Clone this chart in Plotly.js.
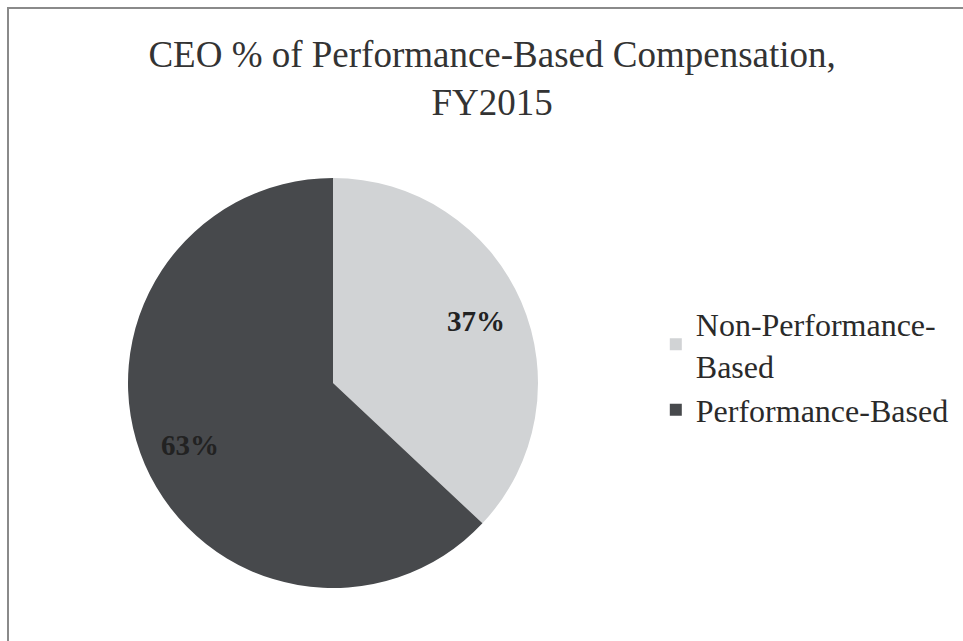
<!DOCTYPE html>
<html>
<head>
<meta charset="utf-8">
<script src="https://cdn.plot.ly/plotly-3.0.1.min.js"></script>
<style>
html,body{margin:0;padding:0;background:#fff;}
#chart{width:963px;height:641px;}
</style>
</head>
<body>
<div id="chart"></div>
<script>
const labels = ["Non-Performance-<br>Based", "Performance-Based"];
const values = [37, 63];
const colors = ["#d1d3d5", "#47494c"];
const titleText = "CEO % of Performance-Based Compensation,<br>FY2015";

const W = 963, H = 641;
const cx = 333, cy = 383, r = 205;
const labelRadius = 0.76;

const trace = {
  type: "pie",
  labels: labels,
  values: values,
  sort: false,
  direction: "clockwise",
  rotation: 0,
  marker: {colors: colors, line: {width: 0}},
  textinfo: "none",
  hoverinfo: "label+percent",
  domain: {x: [(cx - r) / W, (cx + r) / W], y: [1 - (cy + r) / H, 1 - (cy - r) / H]}
};

// percent labels placed along each slice's mid-angle
const total = values.reduce((a, b) => a + b, 0);
let cum = 0;
const annotations = values.map(v => {
  const mid = (cum + v / 2) / total * 2 * Math.PI;
  cum += v;
  const px = cx + labelRadius * r * Math.sin(mid);
  const py = cy - labelRadius * r * Math.cos(mid);
  return {
    xref: "paper", yref: "paper", x: px / W, y: 1 - py / H,
    xanchor: "center", yanchor: "middle", showarrow: false,
    text: "<b>" + Math.round(v / total * 100) + "%</b>",
    font: {family: "Liberation Serif", size: 29, color: "#222222"}
  };
});

const layout = {
  width: W, height: H,
  margin: {l: 0, r: 0, t: 0, b: 0},
  paper_bgcolor: "#ffffff",
  showlegend: true,
  title: {
    text: titleText,
    font: {family: "Liberation Serif", size: 37, color: "#333333"},
    x: 0.511, xanchor: "center", y: 0.895, yanchor: "middle"
  },
  legend: {
    x: 0.681, xanchor: "left", y: 0.428, yanchor: "middle",
    font: {family: "Liberation Serif", size: 32, color: "#2a2a2a"},
    bgcolor: "rgba(0,0,0,0)",
    tracegroupgap: 0
  },
  annotations: annotations,
  shapes: [{
    type: "rect", xref: "paper", yref: "paper",
    x0: 8 / W, x1: 1.02, y0: -0.02, y1: 1 - 8 / H,
    line: {color: "#8a8a8a", width: 2}
  }]
};

Plotly.newPlot("chart", [trace], layout, {displayModeBar: false});
</script>
</body>
</html>
